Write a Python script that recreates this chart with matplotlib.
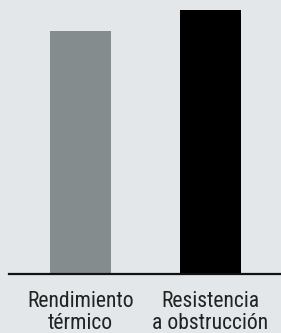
import matplotlib
matplotlib.use("Agg")
import matplotlib.pyplot as plt

categories = ["Rendimiento\ntérmico", "Resistencia\na obstrucción"]
values = [92, 100]
colors = ["#858c8e", "#000000"]

plt.rcParams['font.family'] = ['Roboto Condensed', 'DejaVu Sans']
plt.rcParams['font.stretch'] = 'condensed'

W, H = 281, 333
fig = plt.figure(figsize=(W / 100, H / 100), dpi=100)
fig.patch.set_facecolor("#e3e7ea")

# axes placed in pixel terms: baseline at y=274, value 100 at y=10
left, right = 9, 281
bottom, top = 274, 10
ax = fig.add_axes([left / W, (H - bottom) / H, (right - left) / W, (bottom - top) / H])
ax.set_facecolor("#e3e7ea")

xs = list(range(len(categories)))
ax.bar(xs, values, width=0.47, color=colors)

ax.set_xlim(-0.55, 1.542)
ax.set_ylim(0, 100)

for s in ["top", "left", "right"]:
    ax.spines[s].set_visible(False)
ax.spines["bottom"].set_linewidth(1.6)
ax.spines["bottom"].set_color("#111111")

ax.set_yticks([])
ax.set_xticks(xs)
ax.set_xticklabels(categories, fontsize=15.6, color="#222222", linespacing=1.08,
                   multialignment="center")
ax.tick_params(axis="x", length=0, pad=12)

fig.savefig("out.png", dpi=100, facecolor=fig.get_facecolor())
